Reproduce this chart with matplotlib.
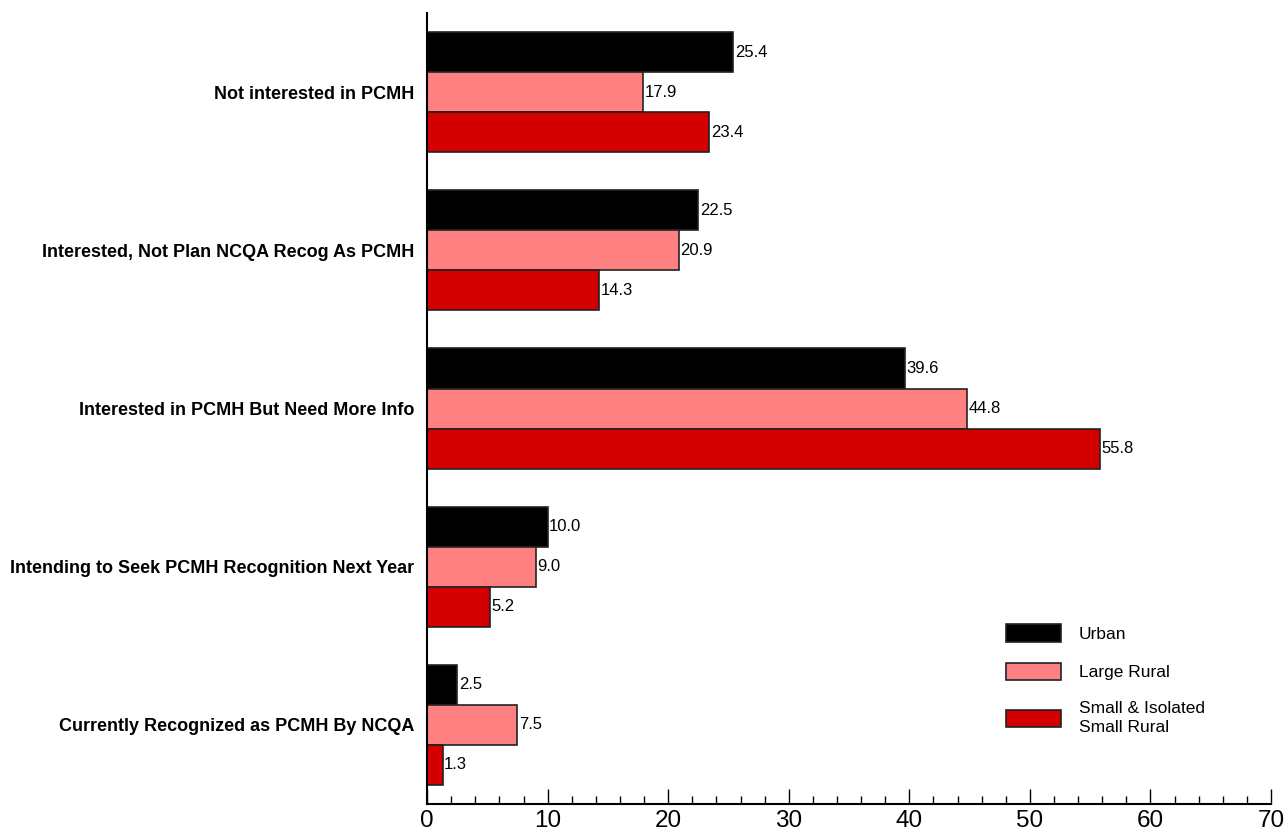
import numpy as np
import matplotlib
matplotlib.use("Agg")
import matplotlib.pyplot as plt
from matplotlib.ticker import MultipleLocator

plt.rcParams['font.family'] = ['Liberation Sans', 'DejaVu Sans']

categories = [
    "Not interested in PCMH",
    "Interested, Not Plan NCQA Recog As PCMH",
    "Interested in PCMH But Need More Info",
    "Intending to Seek PCMH Recognition Next Year",
    "Currently Recognized as PCMH By NCQA",
]
series_names = ["Urban", "Large Rural", "Small & Isolated\nSmall Rural"]
urban = [25.4, 22.5, 39.6, 10.0, 2.5]
large_rural = [17.9, 20.9, 44.8, 9.0, 7.5]
small_rural = [23.4, 14.3, 55.8, 5.2, 1.3]
colors = ["#000000", "#FF8080", "#D40000"]

fig = plt.figure(figsize=(12.84, 8.35), dpi=100)
ax = fig.add_axes([0.3326, 0.0371, 0.6573, 0.9473])

y = np.arange(len(categories))
h = 0.253
for i, (vals, name, col) in enumerate(zip([urban, large_rural, small_rural], series_names, colors)):
    pos = y + (i - 1) * h
    ax.barh(pos, vals, height=h, color=col, edgecolor="#222222", linewidth=1.2, label=name)
    for p, v in zip(pos, vals):
        ax.text(v + 0.12, p, f"{v:.1f}", va="center", ha="left", fontsize=12)

ax.set_ylim(4.5, -0.5)
ax.set_xlim(0, 70)
ax.set_yticks(y)
ax.set_yticklabels(categories, fontsize=13, fontweight="bold")
ax.tick_params(axis="y", length=0, pad=9)
ax.xaxis.set_major_locator(MultipleLocator(10))
ax.xaxis.set_minor_locator(MultipleLocator(2))
ax.tick_params(axis="x", which="major", direction="in", length=11, width=1, labelsize=17.5, pad=4)
ax.tick_params(axis="x", which="minor", direction="in", length=6, width=1)
for s in ["top", "right"]:
    ax.spines[s].set_visible(False)
ax.spines["left"].set_linewidth(1.5)
ax.spines["bottom"].set_linewidth(1.5)

leg = ax.legend(loc="upper left", bbox_to_anchor=(0.668, 0.247), frameon=False, fontsize=12.5,
                handlelength=3.15, handleheight=1.15, labelspacing=1.2, handletextpad=1.0)
leg.get_texts()[2].set_linespacing(1.35)

fig.savefig("out.png", dpi=100)
